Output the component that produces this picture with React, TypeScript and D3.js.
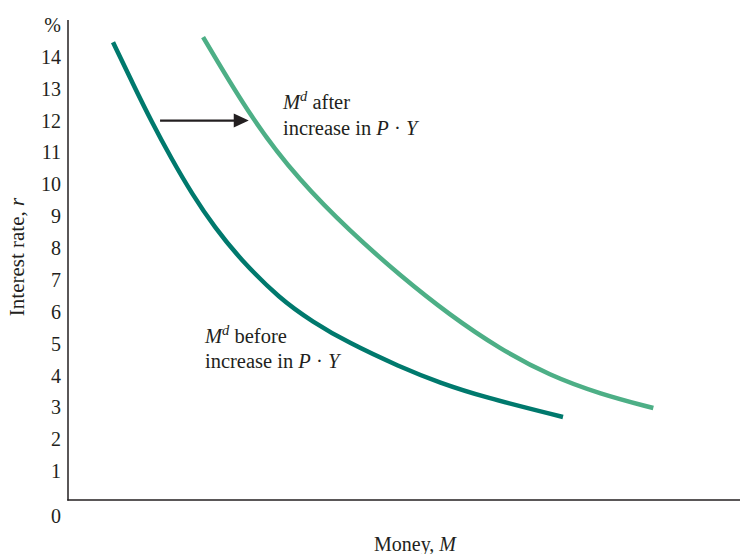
import React from "react";
import * as d3 from "d3";

const W = 744;
const H = 554;

// Money (arbitrary units 0..100) and interest rate (%)
const beforeMoney = [6.7, 9.67, 12.5, 15.33, 18.45, 21.88, 25.6, 31.55, 36.46, 41.52, 49.4, 55.36, 61.76, 73.66];
const beforeRate = [14.46, 13.15, 11.94, 10.83, 9.7, 8.63, 7.66, 6.4, 5.68, 5.05, 4.27, 3.77, 3.33, 2.7];
const afterMoney = [20.1, 27.4, 34.5, 42.0, 49.4, 56.8, 64.3, 71.7, 79.2, 87.1];
const afterRate = [14.62, 12.02, 10.1, 8.52, 7.14, 5.9, 4.83, 4.0, 3.42, 2.98];
const yTicks = [1, 2, 3, 4, 5, 6, 7, 8, 9, 10, 11, 12, 13, 14];
const arrowFrom = [13.7, 12];
const arrowTo = [26.9, 12];

const FONT = "'Liberation Serif', 'Times New Roman', serif";
const DARK = "#00796d";
const LIGHT = "#4daf86";
const INK = "#231f20";

export default function App() {
  const x = d3.scaleLinear().domain([0, 100]).range([68, 740]);
  const y = d3.scaleLinear().domain([0, 15]).range([503, 25]);

  const line = d3
    .line<[number, number]>()
    .x((d) => x(d[0]))
    .y((d) => y(d[1]))
    .curve(d3.curveBasis);

  const before = beforeMoney.map((m, i) => [m, beforeRate[i]] as [number, number]);
  const after = afterMoney.map((m, i) => [m, afterRate[i]] as [number, number]);

  const ax0 = x(arrowFrom[0]);
  const ax1 = x(arrowTo[0]);
  const ay = y(arrowFrom[1]);

  return (
    <svg width={W} height={H} style={{ position: "absolute", left: 0, top: 0, background: "#fff" }}>
      <rect width={W} height={H} fill="#fff" />
      {/* axes */}
      <line x1={68} y1={20} x2={68} y2={500.5} stroke={INK} strokeWidth={1.5} />
      <line x1={67.25} y1={500} x2={740} y2={500} stroke={INK} strokeWidth={1.5} />

      {/* y tick labels */}
      {yTicks.map((t) => (
        <text key={t} x={61} y={y(t)} dy="0.35em" textAnchor="end" fontFamily={FONT} fontSize={20} fill={INK}>
          {t}
        </text>
      ))}
      <text x={61} y={y(15)} dy="0.35em" textAnchor="end" fontFamily={FONT} fontSize={20} fill={INK}>%</text>
      <text x={61} y={516} dy="0.35em" textAnchor="end" fontFamily={FONT} fontSize={20} fill={INK}>0</text>

      {/* axis titles */}
      <text
        transform={`translate(24, ${257}) rotate(-90)`}
        textAnchor="middle"
        fontFamily={FONT}
        fontSize={21}
        fill={INK}
      >
        Interest rate, <tspan fontStyle="italic">r</tspan>
      </text>
      <text x={415} y={551} textAnchor="middle" fontFamily={FONT} fontSize={20} fill={INK}>
        Money, <tspan fontStyle="italic">M</tspan>
      </text>

      {/* curves */}
      <path d={line(before) || ""} fill="none" stroke={DARK} strokeWidth={4.5} />
      <path d={line(after) || ""} fill="none" stroke={LIGHT} strokeWidth={4.5} />

      {/* arrow */}
      <line x1={ax0} y1={ay} x2={ax1 - 12} y2={ay} stroke={INK} strokeWidth={2.2} />
      <path d={`M${ax1},${ay} L${ax1 - 15},${ay - 7} L${ax1 - 15},${ay + 7} Z`} fill={INK} />

      {/* annotations */}
      <text x={283} y={109} fontFamily={FONT} fontSize={20.5} fill={INK}>
        <tspan fontStyle="italic">M</tspan>
        <tspan fontStyle="italic" fontSize={14.5} dy={-8}>d</tspan>
        <tspan dy={8}> after</tspan>
      </text>
      <text x={283} y={135} fontFamily={FONT} fontSize={20.5} fill={INK}>
        increase in <tspan fontStyle="italic">P</tspan> · <tspan fontStyle="italic">Y</tspan>
      </text>
      <text x={205} y={343} fontFamily={FONT} fontSize={20.5} fill={INK}>
        <tspan fontStyle="italic">M</tspan>
        <tspan fontStyle="italic" fontSize={14.5} dy={-8}>d</tspan>
        <tspan dy={8}> before</tspan>
      </text>
      <text x={205} y={368} fontFamily={FONT} fontSize={20.5} fill={INK}>
        increase in <tspan fontStyle="italic">P</tspan> · <tspan fontStyle="italic">Y</tspan>
      </text>
    </svg>
  );
}
